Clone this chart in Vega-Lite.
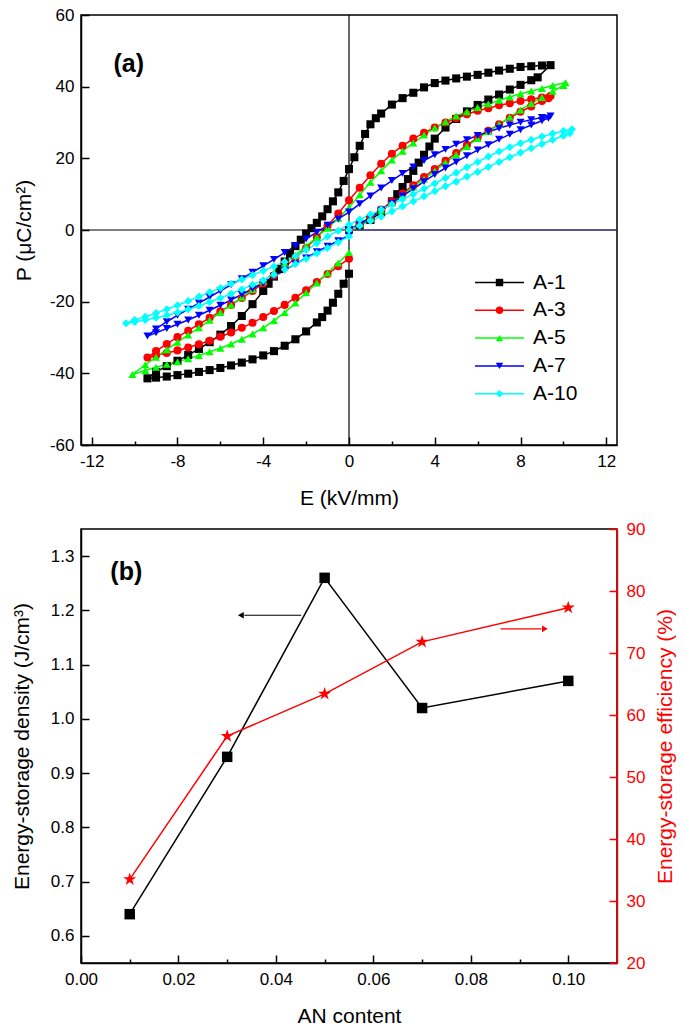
{
"$schema":"https://vega.github.io/schema/vega-lite/v6.json",
"background":"white",
"padding":{"left":10,"top":5,"right":4,"bottom":4},
"spacing":10,
"config":{
 "font":"Liberation Sans",
 "view":{"stroke":"#000000","strokeWidth":1.5},
 "axis":{"grid":false,"domainColor":"#000000","domainWidth":1.5,"tickColor":"#000000","tickWidth":1.5,"labelColor":"#000000","labelFont":"Liberation Sans","labelFontSize":17,"labelFlush":false,"labelOverlap":false,"titleFont":"Liberation Sans","titleFontSize":21,"titleFontWeight":"normal","titleColor":"#000000"},
 "legend":{"labelFont":"Liberation Sans"}
},
"datasets":{
"loops":[
{"s":"A-1","E":0,"P":0},{"s":"A-1","E":0.5,"P":1.3},{"s":"A-1","E":1,"P":2.8},{"s":"A-1","E":1.5,"P":5},{"s":"A-1","E":2,"P":8},{"s":"A-1","E":2.25,"P":10},{"s":"A-1","E":2.5,"P":12},{"s":"A-1","E":2.75,"P":14.2},{"s":"A-1","E":3,"P":16.5},{"s":"A-1","E":3.25,"P":18.8},{"s":"A-1","E":3.5,"P":21},{"s":"A-1","E":3.75,"P":23.3},{"s":"A-1","E":4,"P":25.5},{"s":"A-1","E":4.5,"P":28.6},{"s":"A-1","E":5,"P":31},{"s":"A-1","E":5.5,"P":33.1},{"s":"A-1","E":6,"P":34.9},{"s":"A-1","E":6.5,"P":36.4},{"s":"A-1","E":7,"P":37.8},{"s":"A-1","E":7.5,"P":39.2},{"s":"A-1","E":8,"P":40.5},{"s":"A-1","E":8.5,"P":41.8},{"s":"A-1","E":8.8,"P":42.6},
{"s":"A-1","E":9.4,"P":46},{"s":"A-1","E":9,"P":45.9},{"s":"A-1","E":8.5,"P":45.7},{"s":"A-1","E":8,"P":45.5},{"s":"A-1","E":7.5,"P":45},{"s":"A-1","E":7,"P":44.5},{"s":"A-1","E":6.5,"P":43.9},{"s":"A-1","E":6,"P":43.3},{"s":"A-1","E":5.5,"P":42.8},{"s":"A-1","E":5,"P":42.3},{"s":"A-1","E":4.5,"P":41.7},{"s":"A-1","E":4,"P":41},{"s":"A-1","E":3.5,"P":39.8},{"s":"A-1","E":3,"P":38.3},{"s":"A-1","E":2.5,"P":36.8},{"s":"A-1","E":2,"P":35},{"s":"A-1","E":1.5,"P":32.5},{"s":"A-1","E":1.25,"P":31.2},{"s":"A-1","E":1,"P":29.5},{"s":"A-1","E":0.75,"P":26.8},{"s":"A-1","E":0.5,"P":23.5},{"s":"A-1","E":0.25,"P":20.3},{"s":"A-1","E":0,"P":17},{"s":"A-1","E":-0.25,"P":13.7},{"s":"A-1","E":-0.5,"P":10.5},{"s":"A-1","E":-0.75,"P":8},{"s":"A-1","E":-1,"P":5.8},{"s":"A-1","E":-1.25,"P":3.8},{"s":"A-1","E":-1.5,"P":2},{"s":"A-1","E":-1.75,"P":0.5},{"s":"A-1","E":-2,"P":-1},{"s":"A-1","E":-2.25,"P":-2.7},{"s":"A-1","E":-2.5,"P":-4.5},{"s":"A-1","E":-2.75,"P":-6.6},{"s":"A-1","E":-3,"P":-8.8},{"s":"A-1","E":-3.25,"P":-10.9},{"s":"A-1","E":-3.5,"P":-13},{"s":"A-1","E":-3.75,"P":-15},{"s":"A-1","E":-4,"P":-17},{"s":"A-1","E":-4.5,"P":-20.7},{"s":"A-1","E":-5,"P":-24},{"s":"A-1","E":-5.5,"P":-26.8},{"s":"A-1","E":-6,"P":-29.2},{"s":"A-1","E":-6.5,"P":-31.3},{"s":"A-1","E":-7,"P":-33.2},{"s":"A-1","E":-7.5,"P":-34.9},{"s":"A-1","E":-8,"P":-36.5},{"s":"A-1","E":-8.5,"P":-38},{"s":"A-1","E":-9,"P":-39.6},{"s":"A-1","E":-9.4,"P":-41.4},
{"s":"A-1","E":-9,"P":-41.2},{"s":"A-1","E":-8.5,"P":-40.9},{"s":"A-1","E":-8,"P":-40.5},{"s":"A-1","E":-7.5,"P":-40.1},{"s":"A-1","E":-7,"P":-39.6},{"s":"A-1","E":-6.5,"P":-39.1},{"s":"A-1","E":-6,"P":-38.5},{"s":"A-1","E":-5.5,"P":-37.8},{"s":"A-1","E":-5,"P":-37},{"s":"A-1","E":-4.5,"P":-36.1},{"s":"A-1","E":-4,"P":-35},{"s":"A-1","E":-3.5,"P":-33.8},{"s":"A-1","E":-3,"P":-32.3},{"s":"A-1","E":-2.5,"P":-30.5},{"s":"A-1","E":-2,"P":-28.3},{"s":"A-1","E":-1.5,"P":-25.8},{"s":"A-1","E":-1.25,"P":-24.3},{"s":"A-1","E":-1,"P":-22.5},{"s":"A-1","E":-0.75,"P":-20.3},{"s":"A-1","E":-0.5,"P":-17.8},{"s":"A-1","E":-0.25,"P":-15},{"s":"A-1","E":0,"P":-12.2},
{"s":"A-3","E":0,"P":0},{"s":"A-3","E":0.5,"P":1.7},{"s":"A-3","E":1,"P":3.5},{"s":"A-3","E":1.5,"P":5.7},{"s":"A-3","E":2,"P":8},{"s":"A-3","E":2.5,"P":10.2},{"s":"A-3","E":3,"P":12.5},{"s":"A-3","E":3.5,"P":14.8},{"s":"A-3","E":4,"P":17},{"s":"A-3","E":4.5,"P":19.3},{"s":"A-3","E":5,"P":21.5},{"s":"A-3","E":5.5,"P":23.7},{"s":"A-3","E":6,"P":25.8},{"s":"A-3","E":6.5,"P":27.7},{"s":"A-3","E":7,"P":29.5},{"s":"A-3","E":7.5,"P":31.3},{"s":"A-3","E":8,"P":33},{"s":"A-3","E":8.5,"P":34.5},{"s":"A-3","E":9,"P":36},{"s":"A-3","E":9.3,"P":36.8},
{"s":"A-3","E":9.4,"P":37.4},{"s":"A-3","E":9,"P":37},{"s":"A-3","E":8.5,"P":36.5},{"s":"A-3","E":8,"P":36},{"s":"A-3","E":7.5,"P":35.4},{"s":"A-3","E":7,"P":34.8},{"s":"A-3","E":6.5,"P":34},{"s":"A-3","E":6,"P":33.3},{"s":"A-3","E":5.5,"P":32.3},{"s":"A-3","E":5,"P":31.2},{"s":"A-3","E":4.5,"P":30},{"s":"A-3","E":4,"P":28.6},{"s":"A-3","E":3.5,"P":27.1},{"s":"A-3","E":3,"P":25.5},{"s":"A-3","E":2.5,"P":23.5},{"s":"A-3","E":2,"P":21.3},{"s":"A-3","E":1.5,"P":18.5},{"s":"A-3","E":1,"P":15.3},{"s":"A-3","E":0.5,"P":11.8},{"s":"A-3","E":0,"P":8.3},{"s":"A-3","E":-0.5,"P":4.6},{"s":"A-3","E":-1,"P":1.2},{"s":"A-3","E":-1.5,"P":-2},{"s":"A-3","E":-2,"P":-5},{"s":"A-3","E":-2.5,"P":-7.8},{"s":"A-3","E":-3,"P":-10.4},{"s":"A-3","E":-3.5,"P":-12.7},{"s":"A-3","E":-4,"P":-14.9},{"s":"A-3","E":-4.5,"P":-17},{"s":"A-3","E":-5,"P":-19},{"s":"A-3","E":-5.5,"P":-20.9},{"s":"A-3","E":-6,"P":-22.7},{"s":"A-3","E":-6.5,"P":-24.5},{"s":"A-3","E":-7,"P":-26.3},{"s":"A-3","E":-7.5,"P":-28.1},{"s":"A-3","E":-8,"P":-29.9},{"s":"A-3","E":-8.5,"P":-31.8},{"s":"A-3","E":-9,"P":-33.8},{"s":"A-3","E":-9.4,"P":-35.6},
{"s":"A-3","E":-9,"P":-35},{"s":"A-3","E":-8.5,"P":-34.3},{"s":"A-3","E":-8,"P":-33.6},{"s":"A-3","E":-7.5,"P":-32.8},{"s":"A-3","E":-7,"P":-31.9},{"s":"A-3","E":-6.5,"P":-30.9},{"s":"A-3","E":-6,"P":-29.8},{"s":"A-3","E":-5.5,"P":-28.6},{"s":"A-3","E":-5,"P":-27.3},{"s":"A-3","E":-4.5,"P":-25.9},{"s":"A-3","E":-4,"P":-24.3},{"s":"A-3","E":-3.5,"P":-22.6},{"s":"A-3","E":-3,"P":-20.9},{"s":"A-3","E":-2.5,"P":-18.9},{"s":"A-3","E":-2,"P":-16.8},{"s":"A-3","E":-1.5,"P":-14.5},{"s":"A-3","E":-1,"P":-12.3},{"s":"A-3","E":-0.5,"P":-10.1},{"s":"A-3","E":0,"P":-8},
{"s":"A-5","E":0,"P":0},{"s":"A-5","E":0.5,"P":1.7},{"s":"A-5","E":1,"P":3.5},{"s":"A-5","E":1.5,"P":5.5},{"s":"A-5","E":2,"P":7.5},{"s":"A-5","E":2.5,"P":9.7},{"s":"A-5","E":3,"P":12},{"s":"A-5","E":3.5,"P":14.2},{"s":"A-5","E":4,"P":16.5},{"s":"A-5","E":4.5,"P":18.8},{"s":"A-5","E":5,"P":21},{"s":"A-5","E":5.5,"P":23.3},{"s":"A-5","E":6,"P":25.5},{"s":"A-5","E":6.5,"P":27.5},{"s":"A-5","E":7,"P":29.5},{"s":"A-5","E":7.5,"P":31.5},{"s":"A-5","E":8,"P":33.5},{"s":"A-5","E":8.5,"P":35.3},{"s":"A-5","E":9,"P":37},{"s":"A-5","E":9.5,"P":38.7},{"s":"A-5","E":10,"P":40.3},
{"s":"A-5","E":10.1,"P":41.1},{"s":"A-5","E":9.5,"P":40.3},{"s":"A-5","E":9,"P":39.5},{"s":"A-5","E":8.5,"P":38.8},{"s":"A-5","E":8,"P":38},{"s":"A-5","E":7.5,"P":37.1},{"s":"A-5","E":7,"P":36.2},{"s":"A-5","E":6.5,"P":35.2},{"s":"A-5","E":6,"P":34.2},{"s":"A-5","E":5.5,"P":33},{"s":"A-5","E":5,"P":31.8},{"s":"A-5","E":4.5,"P":30.2},{"s":"A-5","E":4,"P":28.5},{"s":"A-5","E":3.5,"P":26.5},{"s":"A-5","E":3,"P":24.3},{"s":"A-5","E":2.5,"P":22},{"s":"A-5","E":2,"P":19.5},{"s":"A-5","E":1.5,"P":16.5},{"s":"A-5","E":1,"P":13.3},{"s":"A-5","E":0.5,"P":9.8},{"s":"A-5","E":0,"P":6.3},{"s":"A-5","E":-0.5,"P":3.3},{"s":"A-5","E":-1,"P":0.5},{"s":"A-5","E":-1.5,"P":-2},{"s":"A-5","E":-2,"P":-4.5},{"s":"A-5","E":-2.5,"P":-7},{"s":"A-5","E":-3,"P":-9.5},{"s":"A-5","E":-3.5,"P":-11.9},{"s":"A-5","E":-4,"P":-14.3},{"s":"A-5","E":-4.5,"P":-16.6},{"s":"A-5","E":-5,"P":-18.8},{"s":"A-5","E":-5.5,"P":-20.9},{"s":"A-5","E":-6,"P":-23},{"s":"A-5","E":-6.5,"P":-25.2},{"s":"A-5","E":-7,"P":-27.3},{"s":"A-5","E":-7.5,"P":-29.3},{"s":"A-5","E":-8,"P":-31.3},{"s":"A-5","E":-8.5,"P":-33.4},{"s":"A-5","E":-9,"P":-35.5},{"s":"A-5","E":-9.5,"P":-37.6},{"s":"A-5","E":-10.1,"P":-40.3},
{"s":"A-5","E":-9.5,"P":-39.2},{"s":"A-5","E":-9,"P":-38.3},{"s":"A-5","E":-8.5,"P":-37.5},{"s":"A-5","E":-8,"P":-36.8},{"s":"A-5","E":-7.5,"P":-35.9},{"s":"A-5","E":-7,"P":-35},{"s":"A-5","E":-6.5,"P":-34},{"s":"A-5","E":-6,"P":-33},{"s":"A-5","E":-5.5,"P":-31.8},{"s":"A-5","E":-5,"P":-30.5},{"s":"A-5","E":-4.5,"P":-29},{"s":"A-5","E":-4,"P":-27.3},{"s":"A-5","E":-3.5,"P":-25.3},{"s":"A-5","E":-3,"P":-23},{"s":"A-5","E":-2.5,"P":-20.4},{"s":"A-5","E":-2,"P":-17.5},{"s":"A-5","E":-1.5,"P":-14.8},{"s":"A-5","E":-1,"P":-12},{"s":"A-5","E":-0.5,"P":-9.2},{"s":"A-5","E":0,"P":-6.3},
{"s":"A-7","E":0,"P":0},{"s":"A-7","E":0.5,"P":1.7},{"s":"A-7","E":1,"P":3.5},{"s":"A-7","E":1.5,"P":5.5},{"s":"A-7","E":2,"P":7.5},{"s":"A-7","E":2.5,"P":9.5},{"s":"A-7","E":3,"P":11.5},{"s":"A-7","E":3.5,"P":13.5},{"s":"A-7","E":4,"P":15.5},{"s":"A-7","E":4.5,"P":17.3},{"s":"A-7","E":5,"P":19},{"s":"A-7","E":5.5,"P":20.7},{"s":"A-7","E":6,"P":22.3},{"s":"A-7","E":6.5,"P":23.8},{"s":"A-7","E":7,"P":25.3},{"s":"A-7","E":7.5,"P":26.7},{"s":"A-7","E":8,"P":28},{"s":"A-7","E":8.5,"P":29.3},{"s":"A-7","E":9,"P":30.5},{"s":"A-7","E":9.3,"P":31.2},
{"s":"A-7","E":9.4,"P":31.8},{"s":"A-7","E":9,"P":31.4},{"s":"A-7","E":8.5,"P":30.8},{"s":"A-7","E":8,"P":30.1},{"s":"A-7","E":7.5,"P":29.3},{"s":"A-7","E":7,"P":28.4},{"s":"A-7","E":6.5,"P":27.4},{"s":"A-7","E":6,"P":26.4},{"s":"A-7","E":5.5,"P":25.2},{"s":"A-7","E":5,"P":23.9},{"s":"A-7","E":4.5,"P":22.5},{"s":"A-7","E":4,"P":21},{"s":"A-7","E":3.5,"P":19.4},{"s":"A-7","E":3,"P":17.6},{"s":"A-7","E":2.5,"P":15.8},{"s":"A-7","E":2,"P":13.8},{"s":"A-7","E":1.5,"P":11.7},{"s":"A-7","E":1,"P":9.5},{"s":"A-7","E":0.5,"P":7.3},{"s":"A-7","E":0,"P":5},{"s":"A-7","E":-0.5,"P":3.1},{"s":"A-7","E":-1,"P":1.3},{"s":"A-7","E":-1.5,"P":-0.6},{"s":"A-7","E":-2,"P":-2.5},{"s":"A-7","E":-2.5,"P":-4.4},{"s":"A-7","E":-3,"P":-6.3},{"s":"A-7","E":-3.5,"P":-8.2},{"s":"A-7","E":-4,"P":-10},{"s":"A-7","E":-4.5,"P":-11.8},{"s":"A-7","E":-5,"P":-13.6},{"s":"A-7","E":-5.5,"P":-15.3},{"s":"A-7","E":-6,"P":-17},{"s":"A-7","E":-6.5,"P":-18.7},{"s":"A-7","E":-7,"P":-20.4},{"s":"A-7","E":-7.5,"P":-22.1},{"s":"A-7","E":-8,"P":-23.8},{"s":"A-7","E":-8.5,"P":-25.6},{"s":"A-7","E":-9,"P":-27.6},{"s":"A-7","E":-9.4,"P":-29.6},
{"s":"A-7","E":-9,"P":-28.7},{"s":"A-7","E":-8.5,"P":-27.5},{"s":"A-7","E":-8,"P":-26.3},{"s":"A-7","E":-7.5,"P":-25.1},{"s":"A-7","E":-7,"P":-23.8},{"s":"A-7","E":-6.5,"P":-22.4},{"s":"A-7","E":-6,"P":-21},{"s":"A-7","E":-5.5,"P":-19.5},{"s":"A-7","E":-5,"P":-18},{"s":"A-7","E":-4.5,"P":-16.4},{"s":"A-7","E":-4,"P":-14.8},{"s":"A-7","E":-3.5,"P":-13},{"s":"A-7","E":-3,"P":-11.2},{"s":"A-7","E":-2.5,"P":-9.5},{"s":"A-7","E":-2,"P":-7.8},{"s":"A-7","E":-1.5,"P":-6.1},{"s":"A-7","E":-1,"P":-4.5},{"s":"A-7","E":-0.5,"P":-3},{"s":"A-7","E":0,"P":-1.5},
{"s":"A-10","E":0,"P":0},{"s":"A-10","E":0.5,"P":1.2},{"s":"A-10","E":1,"P":2.5},{"s":"A-10","E":1.5,"P":3.8},{"s":"A-10","E":2,"P":5.2},{"s":"A-10","E":2.5,"P":6.6},{"s":"A-10","E":3,"P":8},{"s":"A-10","E":3.5,"P":9.4},{"s":"A-10","E":4,"P":10.8},{"s":"A-10","E":4.5,"P":12.2},{"s":"A-10","E":5,"P":13.5},{"s":"A-10","E":5.5,"P":14.9},{"s":"A-10","E":6,"P":16.2},{"s":"A-10","E":6.5,"P":17.6},{"s":"A-10","E":7,"P":19},{"s":"A-10","E":7.5,"P":20.3},{"s":"A-10","E":8,"P":21.6},{"s":"A-10","E":8.5,"P":22.8},{"s":"A-10","E":9,"P":24},{"s":"A-10","E":9.5,"P":25.2},{"s":"A-10","E":10,"P":26.3},{"s":"A-10","E":10.3,"P":27},
{"s":"A-10","E":10.4,"P":28.1},{"s":"A-10","E":10,"P":27.6},{"s":"A-10","E":9.5,"P":26.9},{"s":"A-10","E":9,"P":26.1},{"s":"A-10","E":8.5,"P":25.2},{"s":"A-10","E":8,"P":24.2},{"s":"A-10","E":7.5,"P":23.1},{"s":"A-10","E":7,"P":21.9},{"s":"A-10","E":6.5,"P":20.5},{"s":"A-10","E":6,"P":19},{"s":"A-10","E":5.5,"P":17.5},{"s":"A-10","E":5,"P":16},{"s":"A-10","E":4.5,"P":14.5},{"s":"A-10","E":4,"P":13},{"s":"A-10","E":3.5,"P":11.5},{"s":"A-10","E":3,"P":10},{"s":"A-10","E":2.5,"P":8.6},{"s":"A-10","E":2,"P":7.2},{"s":"A-10","E":1.5,"P":5.7},{"s":"A-10","E":1,"P":4.3},{"s":"A-10","E":0.5,"P":2.9},{"s":"A-10","E":0,"P":1.5},{"s":"A-10","E":-0.5,"P":-0.2},{"s":"A-10","E":-1,"P":-1.8},{"s":"A-10","E":-1.5,"P":-3.7},{"s":"A-10","E":-2,"P":-5.6},{"s":"A-10","E":-2.5,"P":-7.3},{"s":"A-10","E":-3,"P":-8.9},{"s":"A-10","E":-3.5,"P":-10.2},{"s":"A-10","E":-4,"P":-11.4},{"s":"A-10","E":-4.5,"P":-12.6},{"s":"A-10","E":-5,"P":-13.8},{"s":"A-10","E":-5.5,"P":-15},{"s":"A-10","E":-6,"P":-16.2},{"s":"A-10","E":-6.5,"P":-17.4},{"s":"A-10","E":-7,"P":-18.6},{"s":"A-10","E":-7.5,"P":-19.8},{"s":"A-10","E":-8,"P":-21},{"s":"A-10","E":-8.5,"P":-22.1},{"s":"A-10","E":-9,"P":-23.2},{"s":"A-10","E":-9.5,"P":-24.2},{"s":"A-10","E":-10,"P":-25.1},{"s":"A-10","E":-10.4,"P":-26},
{"s":"A-10","E":-10,"P":-25.7},{"s":"A-10","E":-9.5,"P":-25.1},{"s":"A-10","E":-9,"P":-24.5},{"s":"A-10","E":-8.5,"P":-23.8},{"s":"A-10","E":-8,"P":-23},{"s":"A-10","E":-7.5,"P":-22.1},{"s":"A-10","E":-7,"P":-21.2},{"s":"A-10","E":-6.5,"P":-20.1},{"s":"A-10","E":-6,"P":-19},{"s":"A-10","E":-5.5,"P":-17.8},{"s":"A-10","E":-5,"P":-16.6},{"s":"A-10","E":-4.5,"P":-15.3},{"s":"A-10","E":-4,"P":-14},{"s":"A-10","E":-3.5,"P":-12.5},{"s":"A-10","E":-3,"P":-11},{"s":"A-10","E":-2.5,"P":-9.5},{"s":"A-10","E":-2,"P":-8},{"s":"A-10","E":-1.5,"P":-6.5},{"s":"A-10","E":-1,"P":-5},{"s":"A-10","E":-0.5,"P":-3.4},{"s":"A-10","E":0,"P":-1.8}
],
"ab":[
{"c":0.01,"d":0.64,"e":33.5},{"c":0.03,"d":0.93,"e":56.6},{"c":0.05,"d":1.26,"e":63.4},{"c":0.07,"d":1.02,"e":71.8},{"c":0.1,"d":1.07,"e":77.3}
]
},
"vconcat":[
{
 "width":536,"height":430,
 "layer":[
  {"data":{"name":"loops"},"mark":{"type":"line","strokeWidth":1.5},
   "encoding":{
    "x":{"field":"E","type":"quantitative","scale":{"domain":[-12.5,12.5],"nice":false,"zero":false},
      "axis":{"title":"E (kV/mm)","values":[-12,-10,-8,-6,-4,-2,0,2,4,6,8,10,12],"labelExpr":"datum.value % 4 === 0 ? '' + datum.value : ''","tickSize":{"condition":{"test":"datum.value % 4 !== 0","value":-4},"value":-8},"labelPadding":16,"titlePadding":14}},
    "y":{"field":"P","type":"quantitative","scale":{"domain":[-60,60],"nice":false,"zero":false},
      "axis":{"title":"P (μC/cm²)","values":[-60,-50,-40,-30,-20,-10,0,10,20,30,40,50,60],"labelExpr":"datum.value % 20 === 0 ? '' + datum.value : ''","tickSize":{"condition":{"test":"datum.value % 20 !== 0","value":-4},"value":-8},"labelPadding":15,"titlePadding":15}},
    "stroke":{"field":"s","type":"nominal","sort":["A-1","A-3","A-5","A-7","A-10"],"scale":{"range":["#000000","#FF0000","#00FF00","#0000FF","#00FFFF"]},
      "legend":{"orient":"none","legendX":408,"legendY":257,"title":null,"padding":0,"symbolType":"M-7,0H7","symbolSize":49,"symbolStrokeWidth":1.5,"labelExpr":"''","labelOpacity":0,"labelFontSize":21,"labelOffset":23,"rowPadding":5.8}},
    "order":{"value":null}
   }},
  {"data":{"values":[{}]},"mark":{"type":"rule","color":"#000000","strokeWidth":1.2},"encoding":{"x":{"datum":0,"type":"quantitative"}}},
  {"data":{"values":[{}]},"mark":{"type":"rule","color":"#000000","strokeWidth":1.2},"encoding":{"y":{"datum":0,"type":"quantitative"}}},
  {"data":{"values":[{}]},"mark":{"type":"rule","color":"#2E2E96","strokeWidth":1.2},"encoding":{"x":{"datum":0,"type":"quantitative"},"x2":{"datum":12.5},"y":{"datum":0,"type":"quantitative"}}},
  {"data":{"name":"loops"},"mark":{"type":"point","filled":true,"size":65,"opacity":1,"strokeWidth":0},
   "encoding":{
    "x":{"field":"E","type":"quantitative"},
    "y":{"field":"P","type":"quantitative"},
    "fill":{"field":"s","type":"nominal","scale":{"domain":["A-1","A-3","A-5","A-7","A-10"],"range":["#000000","#FF0000","#00FF00","#0000FF","#00FFFF"]},
      "legend":{"orient":"none","legendX":408,"legendY":257,"title":null,"padding":0,"symbolSize":55,"symbolStrokeWidth":0,"labelFontSize":21,"labelColor":"#000000","labelOffset":23,"rowPadding":5.8}},
    "shape":{"field":"s","type":"nominal","scale":{"domain":["A-1","A-3","A-5","A-7","A-10"],"range":["square","circle","triangle-up","triangle-down","diamond"]},
      "legend":{"orient":"none","legendX":408,"legendY":257,"title":null,"padding":0,"symbolSize":55,"symbolStrokeWidth":0,"labelFontSize":21,"labelColor":"#000000","labelOffset":23,"rowPadding":5.8}}
   }},
  {"data":{"values":[{}]},"mark":{"type":"text","text":"(a)","fontSize":25,"fontWeight":"bold","font":"Liberation Sans","align":"center","baseline":"middle","color":"#000000"},
   "encoding":{"x":{"datum":-10.27,"type":"quantitative"},"y":{"datum":46.3,"type":"quantitative"}}}
 ]
},
{
 "width":536,"height":434,
 "data":{"name":"ab"},
 "layer":[
  {"layer":[
    {"mark":{"type":"line","color":"#000000","strokeWidth":1.5},
     "encoding":{
      "x":{"field":"c","type":"quantitative","scale":{"domain":[0,0.11],"nice":false,"zero":false},
        "axis":{"title":"AN content","values":[0,0.01,0.02,0.03,0.04,0.05,0.06,0.07,0.08,0.09,0.1],"labelExpr":"round(datum.value*100) % 2 === 0 ? format(datum.value, '.2f') : ''","tickSize":{"condition":{"test":"round(datum.value*100) % 2 === 1","value":-4},"value":-8},"labelPadding":16,"titlePadding":14}},
      "y":{"field":"d","type":"quantitative","scale":{"domain":[0.55,1.35],"nice":false,"zero":false},
        "axis":{"title":"Energy-storage density (J/cm³)","values":[0.6,0.65,0.7,0.75,0.8,0.85,0.9,0.95,1,1.05,1.1,1.15,1.2,1.25,1.3],"labelExpr":"round(datum.value*100) % 10 === 0 ? format(datum.value, '.1f') : ''","tickSize":{"condition":{"test":"round(datum.value*100) % 10 === 5","value":-4},"value":-8},"labelPadding":15,"titlePadding":18}}
     }},
    {"mark":{"type":"point","shape":"square","filled":true,"color":"#000000","size":110,"opacity":1},
     "encoding":{"x":{"field":"c","type":"quantitative"},"y":{"field":"d","type":"quantitative"}}},
    {"data":{"values":[{}]},"mark":{"type":"rule","color":"#000000","strokeWidth":1.2},
     "encoding":{"x":{"datum":0.0335,"type":"quantitative"},"x2":{"datum":0.0452},"y":{"datum":1.191,"type":"quantitative"}}},
    {"data":{"values":[{}]},"mark":{"type":"point","shape":"triangle-left","filled":true,"color":"#000000","size":45,"opacity":1},
     "encoding":{"x":{"datum":0.0328,"type":"quantitative"},"y":{"datum":1.191,"type":"quantitative"}}},
    {"data":{"values":[{}]},"mark":{"type":"text","text":"(b)","fontSize":25,"fontWeight":"bold","font":"Liberation Sans","align":"center","baseline":"middle","color":"#000000"},
     "encoding":{"x":{"datum":0.0093,"type":"quantitative"},"y":{"datum":1.271,"type":"quantitative"}}}
  ]},
  {"layer":[
    {"mark":{"type":"line","color":"#FF0000","strokeWidth":1.5},
     "encoding":{
      "x":{"field":"c","type":"quantitative"},
      "y":{"field":"e","type":"quantitative","scale":{"domain":[20,90],"nice":false,"zero":false},
        "axis":{"orient":"right","title":"Energy-storage efficiency (%)","values":[20,25,30,35,40,45,50,55,60,65,70,75,80,85,90],"labelExpr":"datum.value % 10 === 0 ? datum.label : ''","tickSize":{"condition":{"test":"datum.value % 10 === 5","value":-4},"value":-8},"labelPadding":17,"titlePadding":10,"titleAngle":270,"titleBaseline":"top","domainColor":"#FF0000","tickColor":"#FF0000","labelColor":"#FF0000","titleColor":"#FF0000"}}
     }},
    {"mark":{"type":"point","shape":"M0,-1L0.225,-0.309L0.951,-0.309L0.363,0.118L0.588,0.809L0,0.382L-0.588,0.809L-0.363,0.118L-0.951,-0.309L-0.225,-0.309Z","filled":true,"color":"#FF0000","size":190,"opacity":1},
     "encoding":{"x":{"field":"c","type":"quantitative"},"y":{"field":"e","type":"quantitative"}}},
    {"data":{"values":[{}]},"mark":{"type":"rule","color":"#FF0000","strokeWidth":1.2},
     "encoding":{"x":{"datum":0.0861,"type":"quantitative"},"x2":{"datum":0.0945},"y":{"datum":73.9,"type":"quantitative"}}},
    {"data":{"values":[{}]},"mark":{"type":"point","shape":"triangle-right","filled":true,"color":"#FF0000","size":45,"opacity":1},
     "encoding":{"x":{"datum":0.0952,"type":"quantitative"},"y":{"datum":73.9,"type":"quantitative"}}}
  ]}
 ],
 "resolve":{"scale":{"y":"independent"}}
}
]
}
